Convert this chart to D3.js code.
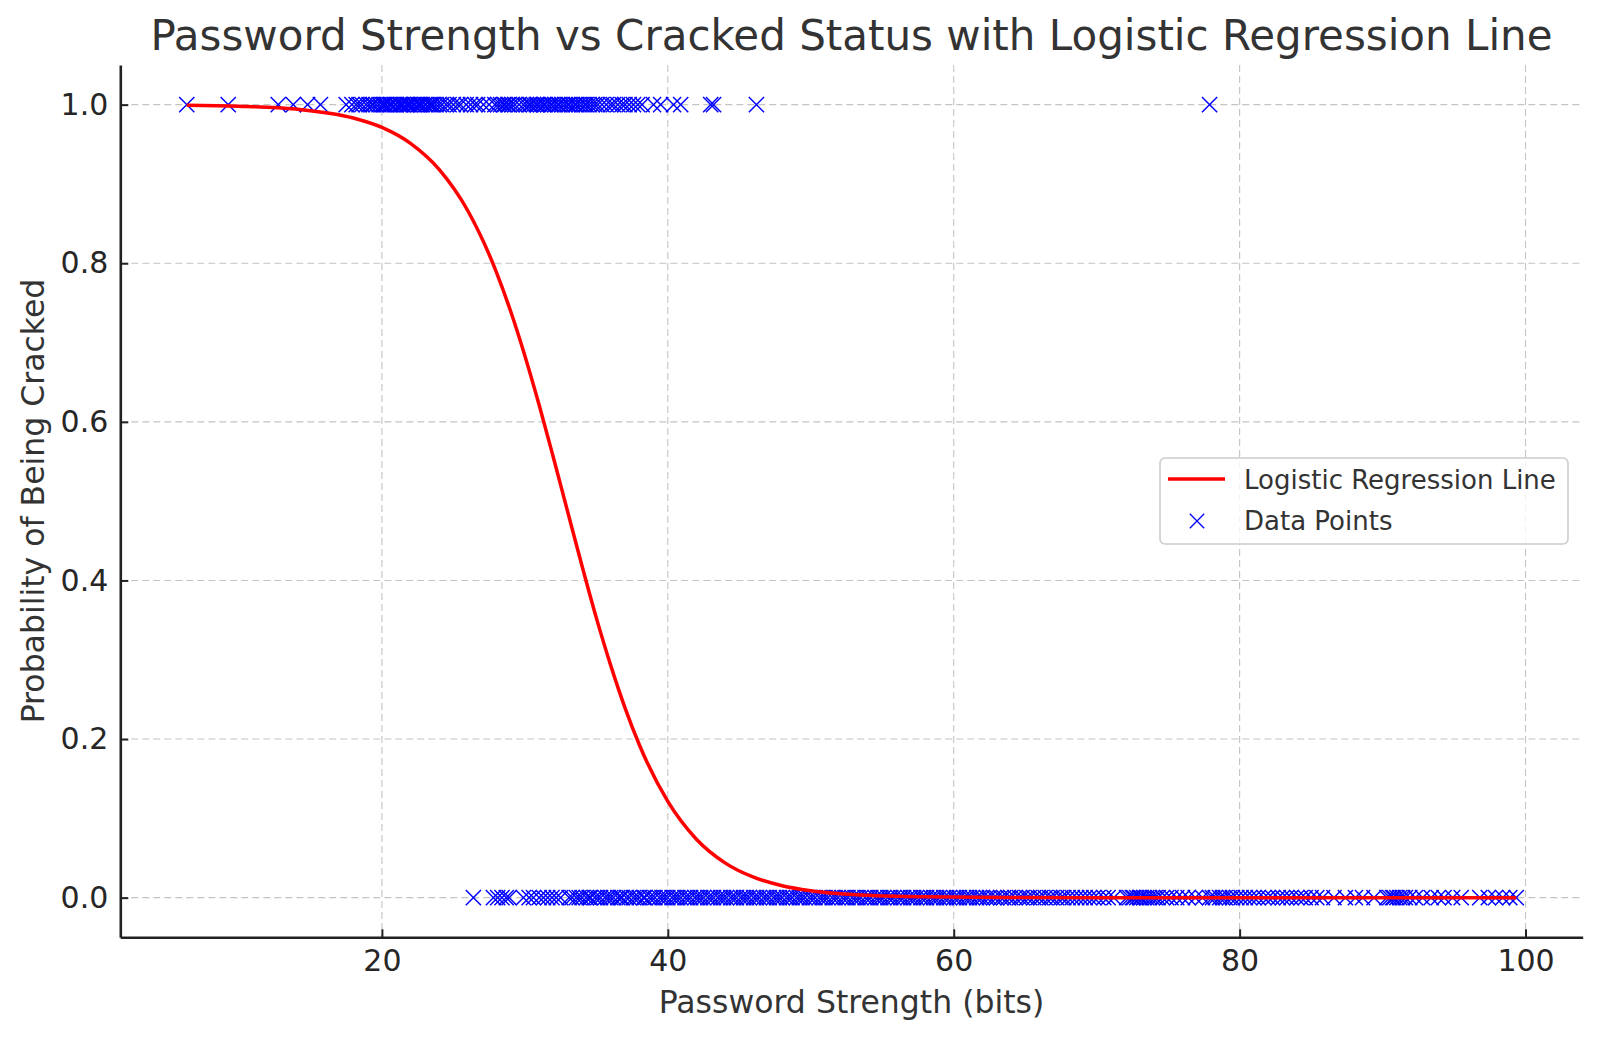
<!DOCTYPE html>
<html><head><meta charset="utf-8">
<script src="https://cdn.jsdelivr.net/npm/d3@7"></script>
<style>body{margin:0;background:#fff}svg{display:block}</style>
</head><body><svg id="c" width="1600" height="1038"></svg>
<script>
// Data points: password strength (bits) of cracked passwords (y = 1)
const crackedStrength = [6.35, 9.25, 12.75, 13.8, 14.8, 15.7, 17.5,
  17.9, 18.2, 18.4, 18.6, 18.9, 19.1, 19.3, 19.4, 19.6, 19.8, 20.0, 20.1, 20.2, 20.3, 20.5, 20.6, 20.7, 20.9, 21.0, 21.2, 21.3, 21.4, 21.5, 21.7, 21.8, 21.9,
  22.0, 22.2, 22.3, 22.5, 22.6, 22.7, 22.8, 23.0, 23.1, 23.3, 23.4, 23.5, 23.6, 23.8, 24.0, 24.2, 24.5, 24.7, 25.0, 25.3, 25.5, 25.9,
  26.2, 26.5, 26.7, 27.1, 27.5, 27.9, 28.1, 28.3, 28.5, 28.6, 28.8, 28.9, 29.1, 29.3, 29.6, 29.9, 30.1, 30.3, 30.4, 30.6,
  30.8, 30.9, 31.1, 31.3, 31.4, 31.6, 31.8, 31.9, 32.1, 32.3, 32.4, 32.6, 32.8, 33.0, 33.1, 33.3, 33.5, 33.6, 33.8, 34.0,
  34.2, 34.3, 34.5, 34.7, 34.9, 35.1, 35.4, 35.7, 36.0, 36.2, 36.5, 36.8, 37.0, 37.3, 37.6, 37.9, 38.2,
  39.0, 39.5, 40.4, 40.9, 43.0, 43.2, 46.2, 77.9];
// Data points: password strength (bits) of passwords not cracked (y = 0)
const safeStrength = [26.4, 27.8, 28.1, 28.4, 28.7, 28.9, 29.9, 30.3, 30.6, 31.0, 31.3, 31.6, 31.9, 32.2, 32.5,
  33.1, 33.3, 33.6, 33.8, 34.0, 34.3, 34.5, 34.6, 34.9, 35.1, 35.3, 35.6, 35.8, 36.0, 36.2, 36.5, 36.7, 36.8, 37.1, 37.3,
  37.6, 37.8, 38.0, 38.3, 38.4, 38.7, 38.9, 39.1, 39.4, 39.6, 39.8, 40.0, 40.3, 40.5, 40.7, 40.9, 41.2, 41.4, 41.6, 41.9,
  42.1, 42.3, 42.5, 42.8, 43.0, 43.2, 43.5, 43.7, 43.9, 44.1, 44.4, 44.6, 44.8, 45.1, 45.3, 45.5, 45.7, 46.0, 46.2, 46.4,
  46.7, 46.9, 47.1, 47.4, 47.6, 47.8, 48.0, 48.3, 48.5, 48.7, 49.0, 49.2, 49.4, 49.6, 49.9, 50.1, 50.3, 50.6, 50.8, 51.0,
  51.2, 51.5, 51.7, 51.9, 52.2, 52.4, 52.6, 52.9, 53.1, 53.3, 53.5, 53.8, 54.0, 54.2, 54.5, 54.7, 54.9, 55.1, 55.4, 55.6,
  55.8, 56.1, 56.3, 56.5, 56.8, 57.0, 57.2, 57.4, 57.7, 57.9, 58.1, 58.4, 58.6, 58.8, 59.0, 59.3, 59.5, 59.7, 60.0, 60.2,
  60.4, 60.7, 60.9, 61.1, 61.3, 61.6, 61.8, 62.0, 62.3, 62.5, 62.8, 63.0, 63.3, 63.5, 63.8, 64.0, 64.3, 64.6, 64.8, 65.1,
  65.3, 65.6, 65.9, 66.1, 66.4, 66.7, 66.9, 67.2, 67.5, 67.7, 68.0, 68.3, 68.6, 68.9, 69.2, 69.5, 69.8, 70.1, 70.5, 70.8, 71.2,
  72.1, 72.3, 72.5, 72.6, 72.8, 73.0, 73.1, 73.3, 73.5, 73.7, 73.9, 74.1, 74.3, 74.6, 74.9, 75.2, 75.6, 76.0, 76.4, 76.9, 77.4, 77.9,
  78.1, 78.3, 78.6, 78.8, 79.0, 79.3, 79.5, 79.8, 80.1, 80.4, 80.7, 81.0, 81.3, 81.7, 82.0, 82.3, 82.7, 83.0, 83.3, 83.6,
  84.0, 84.3, 84.6, 85.0, 85.4, 85.8,
  86.6, 87.4, 88.1, 88.6, 89.4,
  90.3, 90.5, 90.7, 90.8, 91.0, 91.2, 91.4, 91.6, 91.9, 92.3, 92.8, 93.4, 93.9, 94.3, 94.9, 95.5,
  96.8, 97.4, 97.9, 98.4, 98.9, 99.35];
// Logistic regression line
const curveX = [6.35, 10, 14, 18, 20, 22, 24, 26, 28, 29, 30, 31, 32, 33, 34, 35, 36, 37, 38, 40, 42, 44, 46, 48, 50, 54, 58, 65, 75, 85, 99.35];
const curveP = [0.9993, 0.9981, 0.9944, 0.9832, 0.9713, 0.9512, 0.9184, 0.8665, 0.7892, 0.7398, 0.6835, 0.6213, 0.5548,
  0.4863, 0.4182, 0.3528, 0.2932, 0.2397, 0.1931, 0.1213, 0.0737, 0.0439, 0.0258, 0.0151, 0.0088, 0.0029, 0.0010, 0.0001, 0, 0, 0];
const xTicks = [20, 40, 60, 80, 100];
const yTicks = [0.0, 0.2, 0.4, 0.6, 0.8, 1.0];
const legendLabels = ["Logistic Regression Line", "Data Points"];

const svg = d3.select("#c");
const font = "'DejaVu Sans', sans-serif";
const L = 120.3, R = 1582.7, T = 65, B = 937.3;
const x = d3.scaleLinear().domain([1.70, 104.0]).range([L, R]);
const y = d3.scaleLinear().domain([-0.05, 1.05]).range([B, T]);

svg.append("rect").attr("width", 1600).attr("height", 1038).attr("fill", "#fff");

// grid
const grid = svg.append("g").attr("stroke", "#c4c4c4").attr("stroke-width", 1.1).attr("stroke-dasharray", "7,4");
grid.selectAll(".gx").data(xTicks).join("line")
  .attr("x1", d => x(d)).attr("x2", d => x(d)).attr("y1", T).attr("y2", B);
grid.selectAll(".gy").data(yTicks).join("line")
  .attr("x1", L).attr("x2", R).attr("y1", d => y(d)).attr("y2", d => y(d));

// points
const mk = "M-7.6,-7.6L7.6,7.6M-7.6,7.6L7.6,-7.6";
const pts = svg.append("g").attr("stroke", "#0000ff").attr("stroke-width", 1.45).attr("fill", "none");
pts.selectAll(".p1").data(crackedStrength).join("path")
  .attr("d", mk).attr("transform", d => `translate(${x(d)},${y(1)})`);
pts.selectAll(".p0").data(safeStrength).join("path")
  .attr("d", mk).attr("transform", d => `translate(${x(d)},${y(0)})`);

// logistic line
const lineData = curveX.map((v, i) => [v, curveP[i]]);
svg.append("path").datum(lineData)
  .attr("d", d3.line().x(d => x(d[0])).y(d => y(d[1])).curve(d3.curveMonotoneX))
  .attr("fill", "none").attr("stroke", "#ff0000").attr("stroke-width", 3.5);

// axes
const xAxis = svg.append("g").attr("transform", `translate(0,${B})`)
  .call(d3.axisBottom(x).tickValues(xTicks).tickFormat(d3.format("d")).tickSizeInner(-8).tickSizeOuter(0).tickPadding(12));
const yAxis = svg.append("g").attr("transform", `translate(${L},0)`)
  .call(d3.axisLeft(y).tickValues(yTicks).tickFormat(d3.format(".1f")).tickSizeInner(-8).tickSizeOuter(0).tickPadding(12));
[xAxis, yAxis].forEach(a => {
  a.select(".domain").attr("stroke", "#222").attr("stroke-width", 2.6);
  a.selectAll(".tick line").attr("stroke", "#222").attr("stroke-width", 2);
  a.selectAll(".tick text").attr("fill", "#262626").style("font-family", font).style("font-size", "30px");
});

// title and labels
svg.append("text").attr("x", 851.5).attr("y", 50).attr("text-anchor", "middle")
  .style("font-family", font).style("font-size", "42px").attr("fill", "#333")
  .text("Password Strength vs Cracked Status with Logistic Regression Line");
svg.append("text").attr("x", 851.5).attr("y", 1013).attr("text-anchor", "middle")
  .style("font-family", font).style("font-size", "31.5px").attr("fill", "#333")
  .text("Password Strength (bits)");
svg.append("text").attr("transform", "translate(44,501) rotate(-90)").attr("text-anchor", "middle")
  .style("font-family", font).style("font-size", "31.5px").attr("fill", "#333")
  .text("Probability of Being Cracked");

// legend
const lg = svg.append("g");
lg.append("rect").attr("x", 1160).attr("y", 458).attr("width", 408).attr("height", 86).attr("rx", 5)
  .attr("fill", "#fff").attr("fill-opacity", 0.8).attr("stroke", "#cccccc").attr("stroke-width", 1.6);
lg.append("line").attr("x1", 1168).attr("x2", 1225).attr("y1", 479).attr("y2", 479)
  .attr("stroke", "#ff0000").attr("stroke-width", 3.5);
lg.append("path").attr("d", "M-7.2,-7.2L7.2,7.2M-7.2,7.2L7.2,-7.2").attr("transform", "translate(1197,521)")
  .attr("stroke", "#0000ff").attr("stroke-width", 1.3).attr("fill", "none");
lg.selectAll(".lt").data(legendLabels).join("text")
  .attr("x", 1244).attr("y", (d, i) => 489 + i * 41)
  .style("font-family", font).style("font-size", "26px").attr("fill", "#333")
  .text(d => d);
</script>
</body></html>
